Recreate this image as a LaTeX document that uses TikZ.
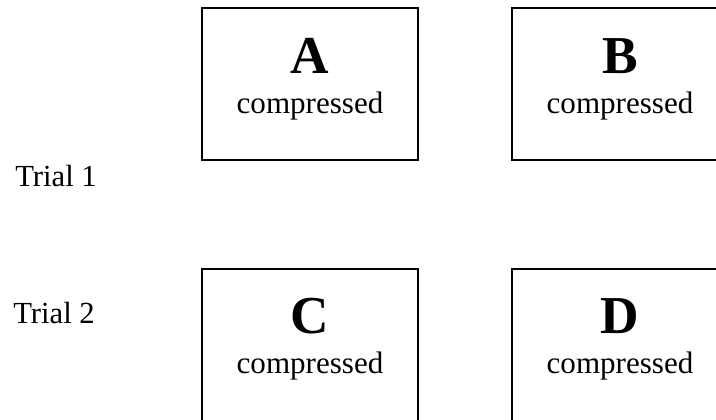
\documentclass[tikz,border=0pt]{standalone}
\usepackage{fontspec}
\setmainfont{Liberation Serif}
\usepackage{tikz}
\tikzset{x=.75pt,y=-.75pt}
\tikzset{
  panel/.style={draw, line width=1pt, minimum width=162pt, minimum height=114pt, inner sep=0pt},
  letter/.style={anchor=base, font=\fontsize{40}{44}\selectfont\bfseries, inner sep=0pt},
  word/.style={anchor=base, font=\fontsize{23.3}{28}\selectfont, inner sep=0pt},
  trial/.style={anchor=base west, font=\fontsize{23}{28}\selectfont, inner sep=0pt}
}

\begin{document}
\begin{tikzpicture}
    \useasboundingbox (0,0) rectangle (716,419);
    \clip (0,0) rectangle (716,419);
    % trial labels
    \node[trial] (trial1) at (15,186) {Trial 1};
    \node[trial] (trial2) at (13,323) {Trial 2};
    % first row
    \node[panel] (boxA) at (310,84) {};
    \node[letter] (letA) at (310,73) {A};
    \node[word] (wordA) at (310,113) {compressed};
    \node[panel] (boxB) at (620,84) {};
    \node[letter] (letB) at (620,73) {B};
    \node[word] (wordB) at (620,113) {compressed};
    % second row
    \node[panel] (boxC) at (310,345) {};
    \node[letter] (letC) at (310,333) {C};
    \node[word] (wordC) at (310,373) {compressed};
    \node[panel] (boxD) at (620,345) {};
    \node[letter] (letD) at (620,333) {D};
    \node[word] (wordD) at (620,373) {compressed};
\end{tikzpicture}
\end{document}
